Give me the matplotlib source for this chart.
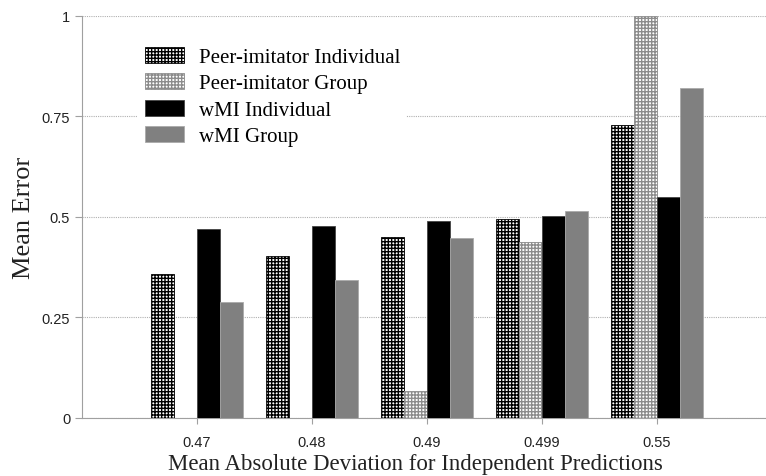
import numpy as np
import matplotlib
matplotlib.use('Agg')
import matplotlib.pyplot as plt

categories = ['0.47', '0.48', '0.49', '0.499', '0.55']
peer_individual = [0.357, 0.402, 0.451, 0.495, 0.728]
peer_group = [0.0, 0.0, 0.066, 0.437, 1.0]
wmi_individual = [0.470, 0.478, 0.489, 0.502, 0.549]
wmi_group = [0.289, 0.343, 0.448, 0.514, 0.820]

plt.rcParams['hatch.linewidth'] = 1.0

fig = plt.figure(figsize=(7.66, 4.77), dpi=100)
ax = fig.add_axes([0.107, 0.1216, 0.893, 0.8428])

x = np.arange(len(categories))
w = 0.2
ax.bar(x - 1.5 * w, peer_individual, w, color='white', edgecolor='black',
       hatch='+++++', linewidth=0.6, label='Peer-imitator Individual', zorder=3)
ax.bar(x - 0.5 * w, peer_group, w, color='white', edgecolor='#8c8c8c',
       hatch='+++++', linewidth=0.6, label='Peer-imitator Group', zorder=3)
ax.bar(x + 0.5 * w, wmi_individual, w, color='black', edgecolor='#444444',
       linewidth=0.6, label='wMI Individual', zorder=3)
ax.bar(x + 1.5 * w, wmi_group, w, color='#808080', edgecolor='#aaaaaa',
       linewidth=0.6, label='wMI Group', zorder=3)

ax.set_xlim(-1, 4.95)
ax.set_ylim(0, 1)
ax.set_xticks(x)
ax.set_xticklabels(categories, fontsize=10.5, family='Liberation Sans')
ax.set_yticks([0, 0.25, 0.5, 0.75, 1])
ax.set_yticklabels(['0', '0.25', '0.5', '0.75', '1'], fontsize=10.5, family='Liberation Sans')
ax.yaxis.grid(True, color='#b0b0b0', linestyle=(0, (1, 1)), linewidth=0.8, zorder=0)

for s in ['top', 'right']:
    ax.spines[s].set_visible(False)
ax.spines['left'].set_color('#a0a0a0')
ax.spines['bottom'].set_color('#a0a0a0')
ax.tick_params(axis='both', colors='#a0a0a0', labelcolor='#222222', length=5)
ax.tick_params(axis='x', length=4, pad=8)

ax.set_xlabel('Mean Absolute Deviation for Independent Predictions',
              family='Liberation Serif', fontsize=16.5, color='#222222')
ax.xaxis.set_label_coords(0.487, -0.088)
ax.set_ylabel('Mean Error', family='Liberation Serif', fontsize=19, color='#222222')
ax.yaxis.set_label_coords(-0.069, 0.5)

leg = ax.legend(loc='upper left', bbox_to_anchor=(0.167, 0.935), bbox_transform=fig.transFigure,
                prop={'family': 'Liberation Serif', 'size': 15}, frameon=True,
                handlelength=1.9, handleheight=0.8, labelspacing=0.3, borderpad=0.3,
                handletextpad=0.7)
leg.get_frame().set_edgecolor('none')
leg.get_frame().set_facecolor('white')
leg.get_frame().set_alpha(1)

fig.savefig('out.png', dpi=100)
